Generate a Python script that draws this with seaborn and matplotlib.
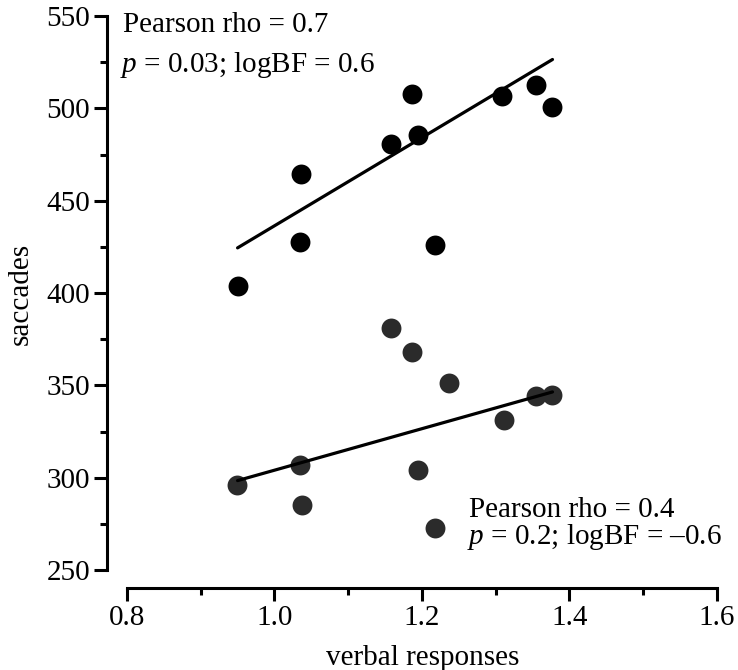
import numpy as np
import pandas as pd
import matplotlib
matplotlib.use("Agg")
import matplotlib.pyplot as plt
import seaborn as sns
from matplotlib.ticker import MultipleLocator, FormatStrFormatter

# ---------------------------------------------------------
# Data
# ---------------------------------------------------------
upper_x = [0.950, 1.034, 1.036, 1.158, 1.186, 1.194, 1.218, 1.309, 1.355, 1.377]
upper_y = [404.0, 427.5, 464.5, 480.5, 507.8, 485.5, 426.0, 506.8, 512.5, 500.8]

lower_x = [0.949, 1.035, 1.037, 1.158, 1.186, 1.194, 1.218, 1.236, 1.311, 1.355, 1.377]
lower_y = [296.0, 307.0, 285.5, 381.0, 368.0, 304.5, 273.0, 351.5, 331.5, 344.5, 345.0]

# fitted lines (end points)
fit_x = [0.950, 1.377]
fit_upper = [424.5, 526.5]
fit_lower = [298.5, 346.5]

# ---------------------------------------------------------
# Style
# ---------------------------------------------------------
sns.set_theme(style="ticks")
plt.rcParams["font.family"] = ["Liberation Serif", "DejaVu Serif"]
plt.rcParams["mathtext.fontset"] = "custom"
plt.rcParams["mathtext.rm"] = "Liberation Serif"
plt.rcParams["mathtext.it"] = "Liberation Serif:italic"

FS = 21

fig = plt.figure(figsize=(7.38, 6.70), dpi=100)
ax = fig.add_axes([0.172, 0.149, 0.7995, 0.827])

df_up = pd.DataFrame({"x": upper_x, "y": upper_y})
df_lo = pd.DataFrame({"x": lower_x, "y": lower_y})

sns.scatterplot(data=df_up, x="x", y="y", ax=ax, color="black", s=205,
                linewidth=0, zorder=2)
sns.scatterplot(data=df_lo, x="x", y="y", ax=ax, color="#2b2b2b", s=205,
                linewidth=0, zorder=2)

sns.lineplot(x=fit_x, y=fit_upper, ax=ax, color="black", linewidth=2.3, zorder=3)
sns.lineplot(x=fit_x, y=fit_lower, ax=ax, color="black", linewidth=2.3, zorder=3)

ax.set_xlim(0.8, 1.6)
ax.set_ylim(250, 550)
ax.xaxis.set_major_locator(MultipleLocator(0.2))
ax.xaxis.set_minor_locator(MultipleLocator(0.1))
ax.xaxis.set_major_formatter(FormatStrFormatter("%.1f"))
ax.yaxis.set_major_locator(MultipleLocator(50))
ax.yaxis.set_minor_locator(MultipleLocator(25))

sns.despine(ax=ax, offset={"left": 14, "bottom": 12.5})
for side in ["left", "bottom"]:
    ax.spines[side].set_linewidth(2.2)
    ax.spines[side].set_color("black")

ax.tick_params(which="major", direction="out", length=9.5, width=2.2,
               labelsize=FS, color="black", labelcolor="black", pad=3)
ax.tick_params(which="minor", direction="out", length=5, width=2.2, color="black")

ax.set_xlabel("verbal responses", fontsize=FS, color="black")
ax.set_ylabel("saccades", fontsize=FS, color="black")
ax.xaxis.set_label_coords(0.502, -0.135)
ax.yaxis.set_label_coords(-0.158, 0.498)

ax.text(0.795, 541.3, "Pearson rho = 0.7", fontsize=FS, color="black", va="baseline")
ax.text(0.790, 519.6, "$p$ = 0.03; logBF = 0.6", fontsize=FS, color="black", va="baseline")
ax.text(1.2635, 278.8, "Pearson rho = 0.4", fontsize=FS, color="black", va="baseline")
ax.text(1.261, 264.1, "$p$ = 0.2; logBF = \u20130.6", fontsize=FS, color="black", va="baseline")

plt.savefig("out.png", dpi=100)
plt.close()
